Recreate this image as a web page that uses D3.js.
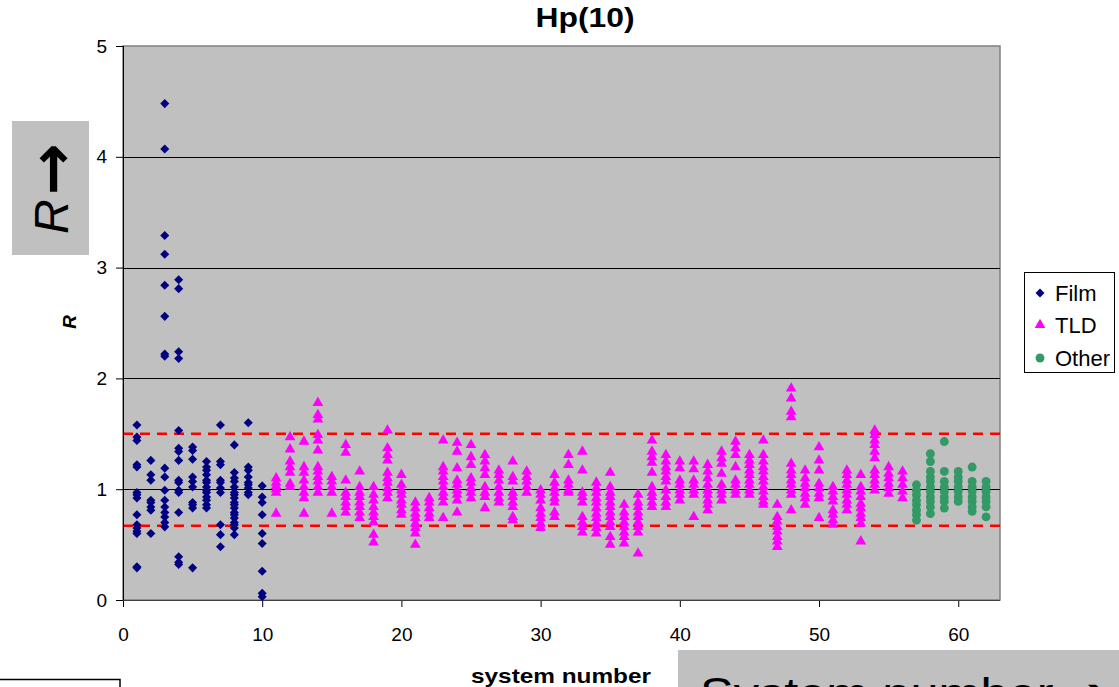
<!DOCTYPE html>
<html><head><meta charset="utf-8">
<script src="https://cdn.jsdelivr.net/npm/d3@7"></script>
<style>
body{margin:0;background:#fff;overflow:hidden;}
svg{display:block;}
text{font-family:"Liberation Sans",Arial,sans-serif;}
</style>
</head><body>
<svg id="chart" width="1119" height="687"></svg>
<script>
// ---------------- data ----------------
const chartTitle = "Hp(10)";
const xAxisTitle = "system number";
const yAxisTitle = "R";
const xTicks = [0, 10, 20, 30, 40, 50, 60];
const yTicks = [0, 1, 2, 3, 4, 5];
const refLines = [1.5, 0.67];
const gridValues = [1, 2, 3, 4];
const seriesNames = ["Film", "TLD", "Other"];
const seriesColors = ["#000080", "#FF00FF", "#339966"];

const filmSystems = [1, 2, 3, 4, 5, 6, 7, 8, 9, 10];
const filmValues = [
  [1.58,1.47,1.44,1.22,1.20,0.97,0.95,0.92,0.77,0.68,0.65,0.62,0.60,0.30,0.29],
  [1.26,1.13,1.08,0.90,0.88,0.84,0.81,0.60],
  [4.48,4.07,3.29,3.12,2.84,2.56,2.22,2.20,1.19,1.11,0.99,0.90,0.84,0.79,0.75,0.70,0.66],
  [2.89,2.81,2.24,2.18,1.53,1.37,1.34,1.26,1.08,1.06,0.99,0.97,0.79,0.39,0.34,0.32],
  [1.38,1.35,1.27,1.11,1.07,1.02,0.88,0.86,0.83,0.29],
  [1.25,1.20,1.17,1.13,1.08,1.06,1.02,0.99,0.97,0.93,0.90,0.86,0.83],
  [1.58,1.25,1.22,1.08,1.06,1.01,0.97,0.68,0.59,0.48],
  [1.40,1.15,1.10,1.07,1.02,0.97,0.95,0.92,0.88,0.86,0.83,0.79,0.77,0.74,0.70,0.68,0.65,0.59],
  [1.60,1.20,1.17,1.11,1.06,1.04,1.01,0.97,0.95],
  [1.03,0.93,0.88,0.77,0.60,0.51,0.26,0.06,0.03]
];

const tldSystems = [11,12,13,14,15,16,17,18,19,20,21,22,23,24,25,26,27,28,29,30,31,32,33,34,35,36,37,38,39,40,41,42,43,44,45,46,47,48,49,50,51,52,53,54,55,56];
const tldValues = [
  [1.10,1.06,1.03,1.00,0.97,0.78],
  [1.47,1.36,1.25,1.20,1.15,1.05,1.02],
  [1.43,1.20,1.15,1.08,1.02,0.97,0.92,0.78],
  [1.78,1.67,1.63,1.49,1.44,1.35,1.20,1.16,1.11,1.07,1.02,0.97],
  [1.11,1.07,1.02,0.97,0.78],
  [1.40,1.33,1.08,0.97,0.93,0.88,0.84,0.79],
  [1.16,1.02,0.97,0.93,0.88,0.84,0.79,0.74],
  [1.02,0.95,0.90,0.84,0.79,0.75,0.70,0.59,0.52],
  [1.53,1.37,1.31,1.26,1.15,1.10,1.06,1.01,0.97,0.92],
  [1.13,1.04,0.99,0.95,0.90,0.86,0.81,0.77],
  [0.88,0.83,0.78,0.74,0.69,0.65,0.60,0.50],
  [0.92,0.88,0.83,0.78,0.74],
  [1.44,1.20,1.16,1.11,1.07,1.02,0.97,0.93,0.88,0.74],
  [1.42,1.34,1.19,1.08,1.04,0.99,0.95,0.90,0.79],
  [1.40,1.29,1.22,1.10,1.06,1.01,0.97,0.92],
  [1.31,1.25,1.19,1.13,1.02,0.97,0.93,0.83],
  [1.17,1.13,1.08,1.02,0.97,0.92,0.88],
  [1.25,1.11,1.07,0.97,0.93,0.88,0.84,0.75,0.72],
  [1.16,1.11,1.07,1.02,0.97],
  [0.99,0.95,0.90,0.83,0.78,0.74,0.69,0.65],
  [1.13,1.06,1.01,0.97,0.92,0.88,0.79,0.75],
  [1.31,1.22,1.08,1.04,0.99,0.97],
  [1.34,1.17,0.97,0.93,0.88,0.75,0.70,0.66,0.61],
  [1.06,1.01,0.97,0.92,0.88,0.83,0.78,0.74,0.69,0.65,0.60],
  [1.15,1.02,0.97,0.93,0.88,0.84,0.79,0.75,0.70,0.66,0.57,0.50],
  [0.86,0.79,0.75,0.70,0.66,0.61,0.57,0.51],
  [0.95,0.88,0.84,0.79,0.75,0.70,0.66,0.61,0.42],
  [1.44,1.34,1.29,1.24,1.15,1.02,0.97,0.93,0.88,0.84],
  [1.31,1.25,1.20,1.16,1.11,1.07,0.99,0.93,0.88,0.84],
  [1.25,1.19,1.08,1.04,0.99,0.95,0.90],
  [1.25,1.18,1.08,1.04,0.99,0.95,0.75],
  [1.22,1.16,1.10,1.04,0.99,0.95,0.90,0.86,0.81],
  [1.34,1.28,1.23,1.14,1.04,0.99,0.95,0.90],
  [1.43,1.37,1.31,1.20,1.08,1.04,0.99,0.95],
  [1.31,1.26,1.22,1.17,1.13,1.08,1.04,0.99,0.95],
  [1.44,1.31,1.25,1.20,1.16,1.11,1.07,1.02,0.98,0.93,0.89,0.86],
  [0.86,0.75,0.71,0.66,0.62,0.57,0.53,0.48],
  [1.91,1.82,1.70,1.65,1.23,1.17,1.13,1.08,1.04,0.99,0.95,0.81],
  [1.17,1.10,1.05,1.01,0.96,0.92,0.86],
  [1.38,1.26,1.17,1.05,1.01,0.96,0.92,0.74],
  [1.02,0.98,0.93,0.89,0.81,0.77,0.72,0.68],
  [1.17,1.13,1.08,1.04,0.99,0.95,0.90,0.86,0.81],
  [1.13,1.02,0.98,0.93,0.87,0.83,0.78,0.74,0.69,0.53],
  [1.53,1.49,1.44,1.40,1.34,1.28,1.17,1.13,1.08,1.04,0.99],
  [1.20,1.14,1.10,1.05,1.01,0.96],
  [1.16,1.10,1.04,0.98,0.92]
];

const otherSystems = [57, 58, 59, 60, 61, 62];
const otherValues = [
  [1.04,0.99,0.95,0.90,0.86,0.81,0.77,0.72],
  [1.32,1.25,1.16,1.11,1.07,1.02,0.98,0.93,0.89,0.84,0.78],
  [1.43,1.16,1.07,1.02,0.98,0.93,0.89,0.83],
  [1.16,1.11,1.07,1.02,0.98,0.93,0.89],
  [1.20,1.07,1.02,0.98,0.93,0.89,0.84,0.80],
  [1.07,1.02,0.98,0.93,0.89,0.84,0.75]
];

const noteY = "R";
const noteYArrow = "\u2192";
const noteX = "System number \u2794";

// ---------------- drawing ----------------
const svg = d3.select("#chart");
const plot = {left: 123, right: 1000, top: 46, bottom: 600};
const x = d3.scaleLinear().domain([0, 63]).range([plot.left, plot.right]);
const y = d3.scaleLinear().domain([0, 5]).range([plot.bottom, plot.top]);

function flatten(systems, values) {
  const out = [];
  systems.forEach((s, i) => values[i].forEach(v => out.push({s, v})));
  return out;
}
const series = [
  flatten(filmSystems, filmValues),
  flatten(tldSystems, tldValues),
  flatten(otherSystems, otherValues)
];

// plot area
svg.append("rect").attr("x", plot.left).attr("y", plot.top)
  .attr("width", plot.right - plot.left).attr("height", plot.bottom - plot.top)
  .attr("fill", "#C0C0C0").attr("stroke", "#808080").attr("stroke-width", 1.5);

// gridlines
svg.append("g").selectAll("line").data(gridValues).join("line")
  .attr("x1", plot.left).attr("x2", plot.right)
  .attr("y1", d => Math.round(y(d)) + 0.5).attr("y2", d => Math.round(y(d)) + 0.5)
  .attr("stroke", "#000").attr("stroke-width", 1);

// reference lines
svg.append("g").selectAll("line").data(refLines).join("line")
  .attr("x1", plot.left).attr("x2", plot.right)
  .attr("y1", d => y(d)).attr("y2", d => y(d))
  .attr("stroke", "#FF0000").attr("stroke-width", 2.5).attr("stroke-dasharray", "10,7");

// axes
const yAxis = d3.axisLeft(y).tickValues(yTicks).tickSize(7).tickPadding(9).tickFormat(d3.format("d"));
const gy = svg.append("g").attr("transform", `translate(${plot.left},0)`).call(yAxis);
gy.select(".domain").remove();
gy.selectAll("line").attr("stroke", "#000");
gy.selectAll("text").attr("font-size", 19).attr("fill", "#000")
  .attr("font-family", "'Liberation Sans',Arial,sans-serif");

const xAxis = d3.axisBottom(x).tickValues(xTicks).tickSize(7).tickPadding(21).tickFormat(d3.format("d"));
const gx = svg.append("g").attr("transform", `translate(0,${plot.bottom})`).call(xAxis);
gx.select(".domain").remove();
gx.selectAll("line").attr("stroke", "#000");
gx.selectAll("text").attr("font-size", 19).attr("fill", "#000")
  .attr("font-family", "'Liberation Sans',Arial,sans-serif");

// axis lines
svg.append("line").attr("x1", plot.left + 0.5).attr("x2", plot.left + 0.5)
  .attr("y1", plot.top).attr("y2", plot.bottom).attr("stroke", "#000");
svg.append("line").attr("x1", plot.left).attr("x2", plot.right)
  .attr("y1", plot.bottom + 0.5).attr("y2", plot.bottom + 0.5).attr("stroke", "#404040");

// markers
const diamond = d3.symbol().type(d3.symbolSquare).size(41);
const triangle = d3.symbol().type(d3.symbolTriangle).size(50);
const circle = d3.symbol().type(d3.symbolCircle).size(62);
const shapes = [diamond, triangle, circle];
series.forEach((data, i) => {
  svg.append("g").selectAll("path").data(data).join("path")
    .attr("d", shapes[i]())
    .attr("transform", d => `translate(${x(d.s)},${y(d.v)})` + (i === 0 ? " rotate(45)" : ""))
    .attr("fill", seriesColors[i]);
});

// title
svg.append("text").attr("x", 585).attr("y", 27).attr("text-anchor", "middle")
  .attr("font-size", 27).attr("font-weight", "bold")
  .attr("textLength", 99).attr("lengthAdjust", "spacingAndGlyphs")
  .text(chartTitle);

// axis titles
svg.append("text").attr("x", 561).attr("y", 683).attr("text-anchor", "middle")
  .attr("font-size", 21).attr("font-weight", "bold")
  .attr("textLength", 180).attr("lengthAdjust", "spacingAndGlyphs")
  .text(xAxisTitle);
svg.append("text").attr("transform", "translate(76,322) rotate(-90)").attr("text-anchor", "middle")
  .attr("font-size", 19).attr("font-weight", "bold").attr("font-style", "italic")
  .text(yAxisTitle);

// legend
const lg = svg.append("g");
lg.append("rect").attr("x", 1024.5).attr("y", 272.5).attr("width", 90).attr("height", 100)
  .attr("fill", "#fff").attr("stroke", "#000").attr("stroke-width", 1);
const legendY = [293, 325, 358];
seriesNames.forEach((n, i) => {
  lg.append("path").attr("d", shapes[i]())
    .attr("transform", `translate(1040,${legendY[i]})` + (i === 0 ? " rotate(45)" : ""))
    .attr("fill", seriesColors[i]);
  lg.append("text").attr("x", 1055).attr("y", legendY[i]).attr("dy", "0.36em")
    .attr("font-size", 22).text(n);
});

// annotation boxes
svg.append("rect").attr("x", 12).attr("y", 121).attr("width", 77).attr("height", 134).attr("fill", "#C0C0C0");
const ry = svg.append("text").attr("transform", "translate(68,234) rotate(-90)")
  .attr("font-size", 48).attr("fill", "#000");
ry.append("tspan").attr("font-style", "italic").text(noteY);
ry.append("tspan").attr("font-family", "'DejaVu Sans',sans-serif").attr("font-weight", "bold")
  .attr("font-size", 62).attr("dx", 4).attr("dy", 5).text(noteYArrow);

svg.append("rect").attr("x", 678).attr("y", 650).attr("width", 460).attr("height", 60).attr("fill", "#C0C0C0");
svg.append("text").attr("x", 700).attr("y", 709).attr("font-size", 44)
  .attr("textLength", 410).attr("lengthAdjust", "spacingAndGlyphs").text(noteX);

svg.append("rect").attr("x", -2).attr("y", 679.5).attr("width", 122).attr("height", 30)
  .attr("fill", "#fff").attr("stroke", "#000").attr("stroke-width", 1.5);
</script>
</body></html>
